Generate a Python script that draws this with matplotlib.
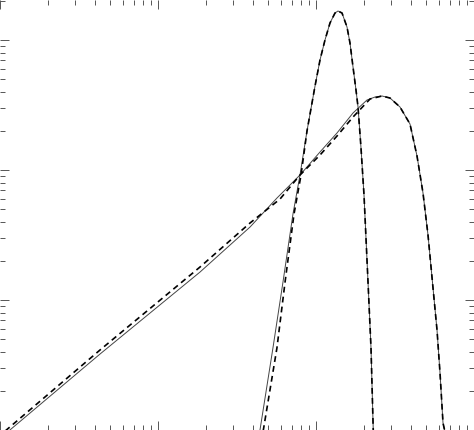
import matplotlib
matplotlib.use("Agg")
import matplotlib.pyplot as plt
from matplotlib.ticker import LogLocator, NullFormatter

# Broad curve (solid)
broad_x = [1.116, 4.295, 18.45, 38.22, 56.64, 79.2, 106.0, 135.8, 171.5, 210.3,
           236.3, 261.7, 294.1, 340.1, 393.4, 435.8, 475.6, 511.6, 550.3, 583.3,
           609.4, 636.6, 655.4]
broad_y = [9.65e-4, 3.84e-3, 0.01641, 0.0364, 0.0609, 0.0915, 0.1376, 0.1926,
           0.2745, 0.3455, 0.3642, 0.3709, 0.3578, 0.3052, 0.2259, 0.1282,
           0.0665, 0.0316, 0.01237, 5.88e-3, 2.745e-3, 1.132e-3, 9.65e-4]

# Broad curve (dashed)
broad_dx = [1.06, 4.295, 18.45, 38.22, 59.2, 79.2, 106.0, 135.8, 171.5, 219.7,
            261.7, 294.1, 340.1, 393.4, 435.8, 475.6, 511.6, 550.3, 583.3,
            609.4, 636.6, 655.4]
broad_dy = [9.65e-4, 4.125e-3, 0.01794, 0.0391, 0.0598, 0.0915, 0.1304, 0.1826,
            0.2556, 0.3517, 0.3709, 0.3578, 0.3052, 0.2259, 0.1282, 0.0665,
            0.0316, 0.01237, 5.88e-3, 2.745e-3, 1.132e-3, 9.65e-4]

# Narrow curve (solid)
narrow_x = [44.0, 53.4, 61.8, 71.5, 79.2, 87.7, 98.6, 106.0, 114.0, 122.6,
            131.9, 137.8, 146.1, 157.1, 164.1, 171.5, 179.1, 184.5, 192.7, 201.3,
            213.4, 222.9, 230.5]
narrow_y = [9.65e-4, 4.28e-3, 0.01374, 0.0459, 0.0916, 0.1995, 0.4428,
            0.7018, 1.0, 1.351, 1.613, 1.671, 1.613, 1.259, 0.9482, 0.6199,
            0.4124, 0.3052, 0.1476, 0.0642, 0.01374, 4.28e-3, 9.65e-4]

# Narrow curve (dashed)
narrow_dx = [46.2, 56.6, 63.7, 72.6, 80.4, 87.7, 98.6, 106.0, 114.0, 122.6,
             131.9, 137.8, 146.1, 157.1, 164.1, 171.5, 179.1, 184.5, 192.7, 201.3,
             213.4, 222.9, 230.5]
narrow_dy = [9.65e-4, 4.28e-3, 0.01374, 0.0459, 0.0916, 0.1995, 0.4428,
             0.7018, 1.0, 1.351, 1.613, 1.671, 1.613, 1.259, 0.9482, 0.6199,
             0.4124, 0.3052, 0.1476, 0.0642, 0.01374, 4.28e-3, 9.65e-4]

fig = plt.figure(figsize=(4.74, 4.30), dpi=100)
ax = fig.add_axes([0, 0, 1, 1])
ax.set_xscale("log")
ax.set_yscale("log")
ax.set_xlim(1, 1000)
ax.set_ylim(1e-3, 2.031)

ax.plot(broad_x, broad_y, color="#444444", lw=0.7)
ax.plot(narrow_x, narrow_y, color="#444444", lw=0.7)
ax.plot(broad_dx, broad_dy, color="black", lw=1.2, ls=(0, (3.5, 2.5)))
ax.plot(narrow_dx, narrow_dy, color="black", lw=1.2, ls=(0, (3.5, 2.5)))

for s in ax.spines.values():
    s.set_visible(False)

for axis in (ax.xaxis, ax.yaxis):
    axis.set_major_locator(LogLocator(base=10, numticks=20))
    axis.set_minor_locator(LogLocator(base=10, subs=range(2, 10), numticks=20))
    axis.set_major_formatter(NullFormatter())
    axis.set_minor_formatter(NullFormatter())

ax.tick_params(which="both", direction="in", top=True, right=True,
               bottom=True, left=True, color="#555555", width=0.7,
               labelbottom=False, labelleft=False)
ax.tick_params(which="major", length=6.5)
ax.tick_params(which="minor", length=3.6)

fig.savefig("out.png", dpi=100)
